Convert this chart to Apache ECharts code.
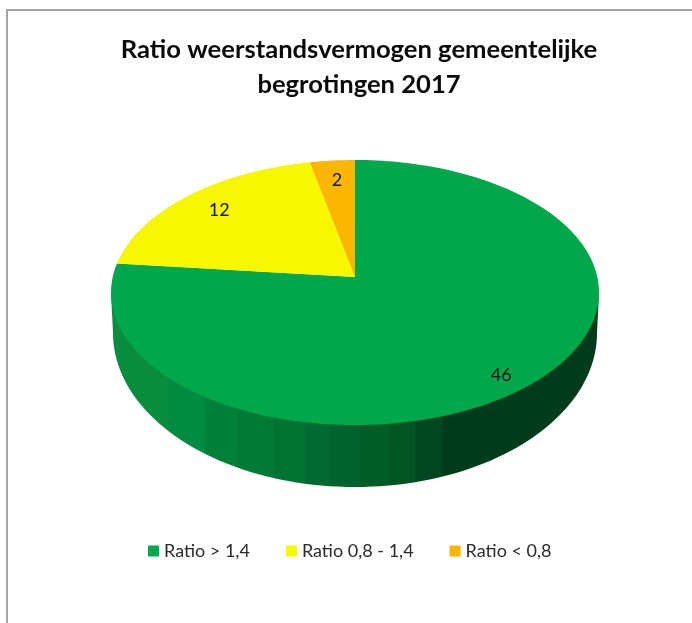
<!DOCTYPE html>
<html>
<head>
<meta charset="utf-8">
<title>Ratio weerstandsvermogen</title>
<script src="https://cdn.jsdelivr.net/npm/echarts@6/dist/echarts.min.js"></script>
<style>
  html, body { margin: 0; padding: 0; background: #fff; }
  #chart { width: 692px; height: 623px; }
</style>
</head>
<body>
<div id="chart"></div>
<script>
var titleLines = ['Ratio weerstandsvermogen gemeentelijke', 'begrotingen 2017'];
var categories = ['Ratio > 1,4', 'Ratio 0,8 - 1,4', 'Ratio < 0,8'];
var values = [46, 12, 2];
var colors = ['#00a84b', '#f7f700', '#fbb600'];

// perspective of the tilted disc: unit circle -> screen
var cx = 355, cy = 277, ax = 242.3, ay = 130.7, persp = -0.117;
var wallRx = 242, wallCy = 333, wallRy = 154, faceMidY = 292.5;
var labelRadius = 0.82;
var labelShift = [[3, 12], [3, 1], [1, 0]];
// hard-edged shading bands of the side wall, left to right
var wallBands = [
  [111, '#0a8c3e'], [168, '#008a42'], [205, '#008039'], [237, '#007a36'],
  [273, '#007232'], [305, '#006a32'], [330, '#00622d'], [360, '#005c27'],
  [390, '#005523'], [415, '#004620'], [443, '#003c1c'], [599, '#003c1c']
];

var total = values.reduce(function (a, b) { return a + b; }, 0);

function project(angle, r) {
  var u = Math.sin(angle) * r, v = -Math.cos(angle) * r;
  var d = 1 + persp * v;
  return [cx + ax * u / d, cy + ay * v / d];
}

function wallShape() {
  var pts = [], i, a;
  for (i = 0; i <= 90; i++) {
    a = Math.PI * i / 90;
    pts.push([cx + wallRx * Math.cos(a), wallCy + wallRy * Math.sin(a)]);
  }
  pts.push([111, faceMidY], [599, faceMidY]);
  return pts;
}

function wallFill() {
  var stops = [], x0 = 111, x1 = 599;
  wallBands.forEach(function (b, i) {
    var off = (b[0] - x0) / (x1 - x0);
    if (i > 0) stops.push({ offset: off, color: wallBands[i - 1][1] });
    stops.push({ offset: off, color: b[1] });
  });
  return new echarts.graphic.LinearGradient(x0, 0, x1, 0, stops, true);
}

function renderSlice(params, api) {
  var idx = params.seriesIndex;
  var start = 0, i;
  for (i = 0; i < idx; i++) start += values[i];
  var val = api.value(0);
  // slices run clockwise from 12 o'clock
  var a0 = start / total * Math.PI * 2;
  var a1 = (start + val) / total * Math.PI * 2;
  var steps = Math.max(4, Math.round((a1 - a0) * 40));
  var pts = [project(0, 0)];
  for (i = 0; i <= steps; i++) {
    pts.push(project(a0 + (a1 - a0) * i / steps, 1));
  }
  var children = [];
  if (idx === 0) {
    children.push({
      type: 'polygon',
      shape: { points: wallShape() },
      style: { fill: wallFill() }
    });
  }
  children.push({
    type: 'polygon',
    shape: { points: pts },
    style: { fill: colors[idx] }
  });
  var lp = project((a0 + a1) / 2, labelRadius);
  children.push({
    type: 'text',
    x: lp[0] + labelShift[idx][0],
    y: lp[1] + labelShift[idx][1],
    style: {
      text: String(val),
      align: 'center',
      verticalAlign: 'middle',
      fill: '#111',
      fontFamily: 'Lato',
      fontSize: 18
    }
  });
  return { type: 'group', children: children };
}

var chart = echarts.init(document.getElementById('chart'));

chart.setOption({
  animation: false,
  backgroundColor: '#fff',
  title: {
    text: titleLines.join('\n'),
    left: 354,
    top: 27,
    textAlign: 'center',
    textStyle: {
      fontFamily: 'Lato',
      fontWeight: 'bold',
      fontSize: 25.6,
      lineHeight: 35,
      color: '#0a0a0a'
    }
  },
  legend: {
    data: categories,
    left: 143,
    top: 537,
    icon: 'rect',
    itemWidth: 11,
    itemHeight: 11,
    itemGap: 36,
    textStyle: { fontFamily: 'Lato', fontSize: 18, color: '#2b2b2b' }
  },
  graphic: [
    { type: 'line', shape: { x1: 6, y1: 10, x2: 692, y2: 10 }, style: { stroke: '#a4a4a4', lineWidth: 2 }, silent: true },
    { type: 'line', shape: { x1: 7, y1: 10, x2: 7, y2: 623 }, style: { stroke: '#a4a4a4', lineWidth: 2 }, silent: true }
  ],
  series: categories.map(function (name, i) {
    return {
      type: 'custom',
      name: name,
      coordinateSystem: 'none',
      silent: true,
      itemStyle: { color: colors[i] },
      data: [[values[i]]],
      renderItem: renderSlice
    };
  })
});
</script>
</body>
</html>
